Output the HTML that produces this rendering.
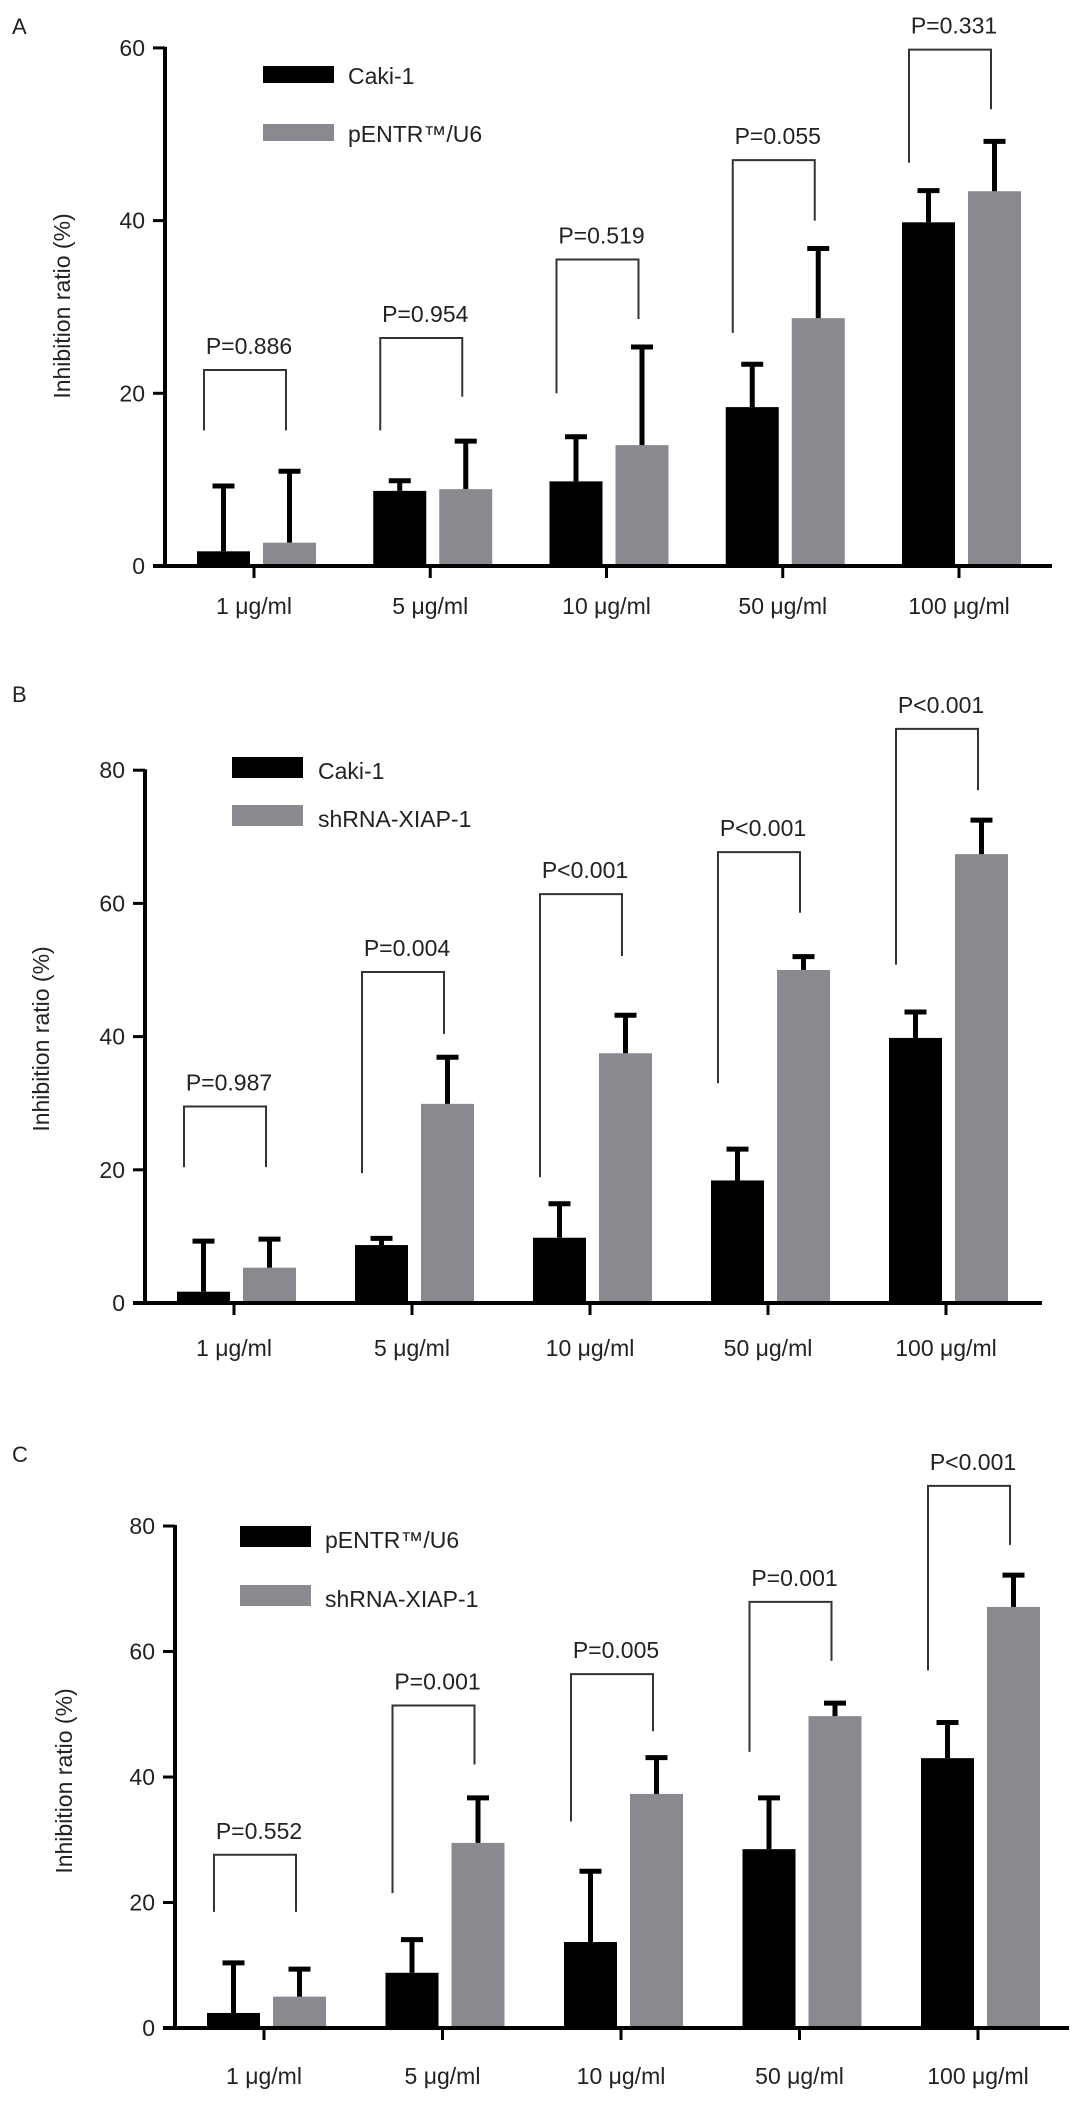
<!DOCTYPE html>
<html>
<head>
<meta charset="utf-8">
<style>
html,body{margin:0;padding:0;background:#fff;}
svg{display:block;}
text{font-family:"Liberation Sans",Arial,sans-serif;fill:#222;}
</style>
</head>
<body>
<svg id="fig" width="1082" height="2101" viewBox="0 0 1082 2101" xmlns="http://www.w3.org/2000/svg"></svg>
<script>
// ---- shared data ----
const categories = ['1 \u03bcg/ml','5 \u03bcg/ml','10 \u03bcg/ml','50 \u03bcg/ml','100 \u03bcg/ml'];
// Panel A
const aBlackValues = [1.7, 8.7, 9.8, 18.4, 39.8];
const aBlackErr    = [7.8, 1.4, 5.4, 5.2, 3.9];
const aGreyValues  = [2.7, 8.9, 14.0, 28.7, 43.4];
const aGreyErr     = [8.5, 5.8, 11.6, 8.3, 6.0];
const aPLabels     = ['P=0.886','P=0.954','P=0.519','P=0.055','P=0.331'];
const aBracketTop  = [22.7, 26.4, 35.5, 47.0, 59.8];
const aBracketL    = [15.7, 15.7, 20.0, 27.0, 46.7];
const aBracketR    = [15.7, 19.6, 28.6, 40.0, 52.9];
const aTicks       = [0, 20, 40, 60];
const aLegend      = ['Caki-1', 'pENTR\u2122/U6'];
// Panel B
const bBlackValues = [1.7, 8.7, 9.8, 18.4, 39.8];
const bBlackErr    = [7.9, 1.3, 5.4, 5.0, 4.2];
const bGreyValues  = [5.3, 29.9, 37.5, 50.0, 67.4];
const bGreyErr     = [4.6, 7.3, 6.0, 2.3, 5.4];
const bPLabels     = ['P=0.987','P=0.004','P<0.001','P<0.001','P<0.001'];
const bBracketTop  = [29.5, 49.7, 61.4, 67.7, 86.2];
const bBracketL    = [20.4, 19.5, 18.9, 33.0, 50.8];
const bBracketR    = [20.4, 40.4, 52.1, 58.6, 77.0];
const bTicks       = [0, 20, 40, 60, 80];
const bLegend      = ['Caki-1', 'shRNA-XIAP-1'];
// Panel C
const cBlackValues = [2.4, 8.8, 13.7, 28.5, 43.0];
const cBlackErr    = [8.3, 5.6, 11.6, 8.5, 6.0];
const cGreyValues  = [5.0, 29.5, 37.3, 49.7, 67.1];
const cGreyErr     = [4.7, 7.5, 6.1, 2.4, 5.4];
const cPLabels     = ['P=0.552','P=0.001','P=0.005','P=0.001','P<0.001'];
const cBracketTop  = [27.6, 51.4, 56.4, 67.9, 86.4];
const cBracketL    = [18.5, 21.5, 32.9, 44.0, 57.0];
const cBracketR    = [18.5, 42.0, 47.3, 58.5, 77.0];
const cTicks       = [0, 20, 40, 60, 80];
const cLegend      = ['pENTR\u2122/U6', 'shRNA-XIAP-1'];

const NS = 'http://www.w3.org/2000/svg';
const svg = document.getElementById('fig');
function mk(tag, attrs, parent){
  const e = document.createElementNS(NS, tag);
  for (const k in attrs) e.setAttribute(k, attrs[k]);
  (parent||svg).appendChild(e);
  return e;
}

function drawPanel(p){
  const g = mk('g', {});
  
  
  const yMax = p.ticks[p.ticks.length-1];
  const yScale = v => p.y0 - v * p.perUnit;
  const xTick = i => p.tick1 + i * p.spacing;
  const blackL = i => xTick(i) - 57;
  const greyL = i => xTick(i) + 9;
  const bw = 53;

  // panel letter
  const letter = mk('text', {x: 12, y: p.letterY, 'font-size': 22}, g);
  letter.textContent = p.id;
  
  

  // bars
  const series = [
    {vals: p.black, err: p.blackErr, color: '#000', x: blackL, name: 'black'},
    {vals: p.grey, err: p.greyErr, color: '#8a8990', x: greyL, name: 'grey'}
  ];
  series.forEach(s => {
    s.vals.forEach((v, i) => {
      const top = yScale(v);
      const r = mk('rect', {x: s.x(i), y: top, width: bw, height: p.y0 - top, fill: s.color}, g);
      
      
      const cx = s.x(i) + bw/2;
      const capY = yScale(v + s.err[i]);
      const eb = mk('g', {}, g);
      
      
      mk('line', {x1: cx, x2: cx, y1: top, y2: capY, stroke: '#000', 'stroke-width': 5}, eb);
      mk('line', {x1: cx-11, x2: cx+11, y1: capY+2, y2: capY+2, stroke: '#000', 'stroke-width': 5}, eb);
    });
  });

  // axes
  const yAxis = mk('line', {x1: p.axisX, x2: p.axisX, y1: yScale(yMax)-1, y2: p.y0+2, stroke: '#000', 'stroke-width': 4}, g);
  
  
  const xAxis = mk('line', {x1: p.axisX-12, x2: p.axisEnd, y1: p.y0, y2: p.y0, stroke: '#000', 'stroke-width': 4}, g);
  
  
  p.ticks.forEach(t => {
    const y = yScale(t);
    mk('line', {x1: p.axisX-12, x2: p.axisX, y1: y, y2: y, stroke: '#000', 'stroke-width': 3}, g);
    const tl = mk('text', {x: p.axisX-20, y: y+8, 'font-size': 23, 'text-anchor': 'end'}, g);
    tl.textContent = t;
    
    
  });
  categories.forEach((c, i) => {
    const x = xTick(i);
    mk('line', {x1: x, x2: x, y1: p.y0, y2: p.y0+12, stroke: '#000', 'stroke-width': 3}, g);
    const xl = mk('text', {x: x, y: p.xLabelY, 'font-size': 23, 'text-anchor': 'middle'}, g);
    xl.textContent = c;
    
    
  });

  // y title
  const yt = mk('text', {x: 0, y: 0, 'font-size': 23, 'text-anchor': 'middle', transform: 'translate(' + (p.titleX+8) + ',' + p.titleY + ') rotate(-90)'}, g);
  yt.textContent = 'Inhibition ratio (%)';
  
  

  // brackets
  p.pLabels.forEach((lab, i) => {
    const xl = xTick(i) - 50, xr = xTick(i) + 32;
    const yt2 = yScale(p.bTop[i]);
    const bg = mk('g', {}, g);
    
    
    mk('polyline', {points: xl + ',' + yScale(p.bL[i]) + ' ' + xl + ',' + yt2 + ' ' + xr + ',' + yt2 + ' ' + xr + ',' + yScale(p.bR[i]), fill: 'none', stroke: '#333', 'stroke-width': 2}, bg);
    const pt = mk('text', {x: (xl+xr)/2 + 4, y: yt2 - 16, 'font-size': 23, 'text-anchor': 'middle'}, bg);
    pt.textContent = lab;
    
    
  });

  // legend
  const lg = mk('g', {}, g);
  
  
  [['#000', p.legend[0], p.leg.y1], ['#8a8990', p.legend[1], p.leg.y2]].forEach(([col, name, y], k) => {
    const sw = mk('rect', {x: p.leg.x, y: y, width: 71, height: p.leg.h, fill: col}, lg);
    
    
    const lt = mk('text', {x: p.leg.tx, y: y + p.leg.h + 1, 'font-size': 23}, lg);
    lt.textContent = name;
    
    
  });
}

drawPanel({id:'A', letterY:34, axisX:165, axisEnd:1052, y0:566, perUnit:8.635, tick1:254, spacing:176.25,
  ticks:aTicks, xLabelY:614, titleX:62, titleY:306,
  black:aBlackValues, blackErr:aBlackErr, grey:aGreyValues, greyErr:aGreyErr,
  pLabels:aPLabels, bTop:aBracketTop, bL:aBracketL, bR:aBracketR, legend:aLegend,
  leg:{x:263, y1:66, y2:124, h:17, tx:348}});
drawPanel({id:'B', letterY:702, axisX:145, axisEnd:1042, y0:1303, perUnit:6.66, tick1:234, spacing:178,
  ticks:bTicks, xLabelY:1356, titleX:41, titleY:1039,
  black:bBlackValues, blackErr:bBlackErr, grey:bGreyValues, greyErr:bGreyErr,
  pLabels:bPLabels, bTop:bBracketTop, bL:bBracketL, bR:bBracketR, legend:bLegend,
  leg:{x:232, y1:757, y2:805, h:21, tx:318}});
drawPanel({id:'C', letterY:1462, axisX:175, axisEnd:1069, y0:2028, perUnit:6.275, tick1:264, spacing:178.5,
  ticks:cTicks, xLabelY:2084, titleX:64, titleY:1781,
  black:cBlackValues, blackErr:cBlackErr, grey:cGreyValues, greyErr:cGreyErr,
  pLabels:cPLabels, bTop:cBracketTop, bL:cBracketL, bR:cBracketR, legend:cLegend,
  leg:{x:240, y1:1526, y2:1585, h:21, tx:325}});
</script>
</body>
</html>
